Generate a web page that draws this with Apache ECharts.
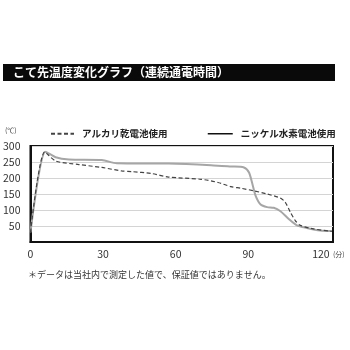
<!DOCTYPE html>
<html><head><meta charset="utf-8">
<script src="https://cdn.jsdelivr.net/npm/echarts@6/dist/echarts.min.js"></script>
<style>html,body{margin:0;padding:0;background:#fff}#c{width:350px;height:350px}</style>
</head><body><div id="c"></div>
<script>
const titleText = 'こて先温度変化グラフ（連続通電時間）';
const noteText = '＊データは当社内で測定した値で、保証値ではありません。';
const seriesNames = ['アルカリ乾電池使用', 'ニッケル水素電池使用'];
const xTicks = [0, 30, 60, 90, 120];
const yTicks = [50, 100, 150, 200, 250, 300];
// [minutes, °C]
const alkaline = [[0,30],[5.9,282],[10.4,253],[20,242],[29.5,233],[37.7,222],[41.8,220],[50,214],[57,203],[70.5,196],[77.5,186],[82.8,173],[86.9,168],[92.3,160],[97.8,150],[103.3,137],[105.3,124],[107.4,93],[109.4,67],[111.5,52],[116.9,41],[124.5,33]];
const nimh = [[0,30],[6.2,282],[10.4,265],[15.9,258],[29.5,256],[35.7,246],[57,245],[74.6,240],[82.8,236],[88.2,233],[90.3,217],[91.7,181],[93,145],[95.1,117],[97.8,109],[100.5,107],[103.3,96],[106.7,72],[110.1,52],[114.2,44],[119.7,36],[124.5,34]];

const chart = echarts.init(document.getElementById('c'));
const jp = '"Noto Sans CJK JP", "Noto Sans", sans-serif';
const legendCommon = { top: 124, itemHeight: 10, itemGap: 0,
  itemStyle: { opacity: 0, borderWidth: 0 },
  textStyle: { fontSize: 9.5, fontWeight: 'bold', color: '#222', padding: [0, 0, 0, 3] } };
chart.setOption({
  animation: false,
  textStyle: { fontFamily: jp },
  grid: { left: 28, right: 17, top: 146, height: 96, show: true, borderColor: '#111', borderWidth: 2, containLabel: false },
  legend: [
    Object.assign({ data: [seriesNames[0]], left: 45, itemWidth: 23 }, legendCommon),
    Object.assign({ data: [seriesNames[1]], left: 202, itemWidth: 25,
      lineStyle: { color: '#111', width: 1.5 } }, legendCommon)
  ],
  xAxis: {
    type: 'value', min: 0, max: 125, interval: 30,
    axisLine: { show: true, lineStyle: { color: '#111', width: 2 } },
    axisTick: { show: false }, splitLine: { show: false },
    axisLabel: { fontSize: 10.5, color: '#333', margin: 7, showMaxLabel: false,
      formatter: v => xTicks.includes(v) ? String(v) : '' }
  },
  yAxis: {
    type: 'value', min: 0, max: 300, interval: 50,
    axisLine: { show: true, lineStyle: { color: '#111', width: 2 } },
    axisTick: { show: false },
    splitLine: { show: true, lineStyle: { color: '#d4d4d4', width: 1 } },
    axisLabel: { fontSize: 10.5, color: '#333', margin: 10,
      formatter: v => yTicks.includes(v) ? String(v) : '' }
  },
  series: [
    { name: seriesNames[1], type: 'line', data: nimh, symbol: 'none', smooth: 0.25,
      lineStyle: { color: '#a6a6a6', width: 2 } },
    { name: seriesNames[0], type: 'line', data: alkaline, symbol: 'none', smooth: 0.25,
      lineStyle: { color: '#444', width: 1.2, type: [4, 2.5] } }
  ],
  graphic: [
    { type: 'rect', shape: { x: 3, y: 64, width: 332, height: 17 }, style: { fill: '#0a0a0a' } },
    { type: 'text', x: 13, y: 72.5, style: { text: titleText, fill: '#fff', font: 'bold 12px ' + jp, textVerticalAlign: 'middle' } },
    { type: 'text', x: 5, y: 130, style: { text: '(℃)', fill: '#444', font: '7px ' + jp, textVerticalAlign: 'middle' } },
    { type: 'text', x: 333, y: 254, style: { text: '(分)', fill: '#444', font: '7px ' + jp, textVerticalAlign: 'middle' } },
    { type: 'text', x: 28, y: 275, style: { text: noteText, fill: '#333', font: '9px ' + jp, textVerticalAlign: 'middle' } }
  ]
});
</script></body></html>
